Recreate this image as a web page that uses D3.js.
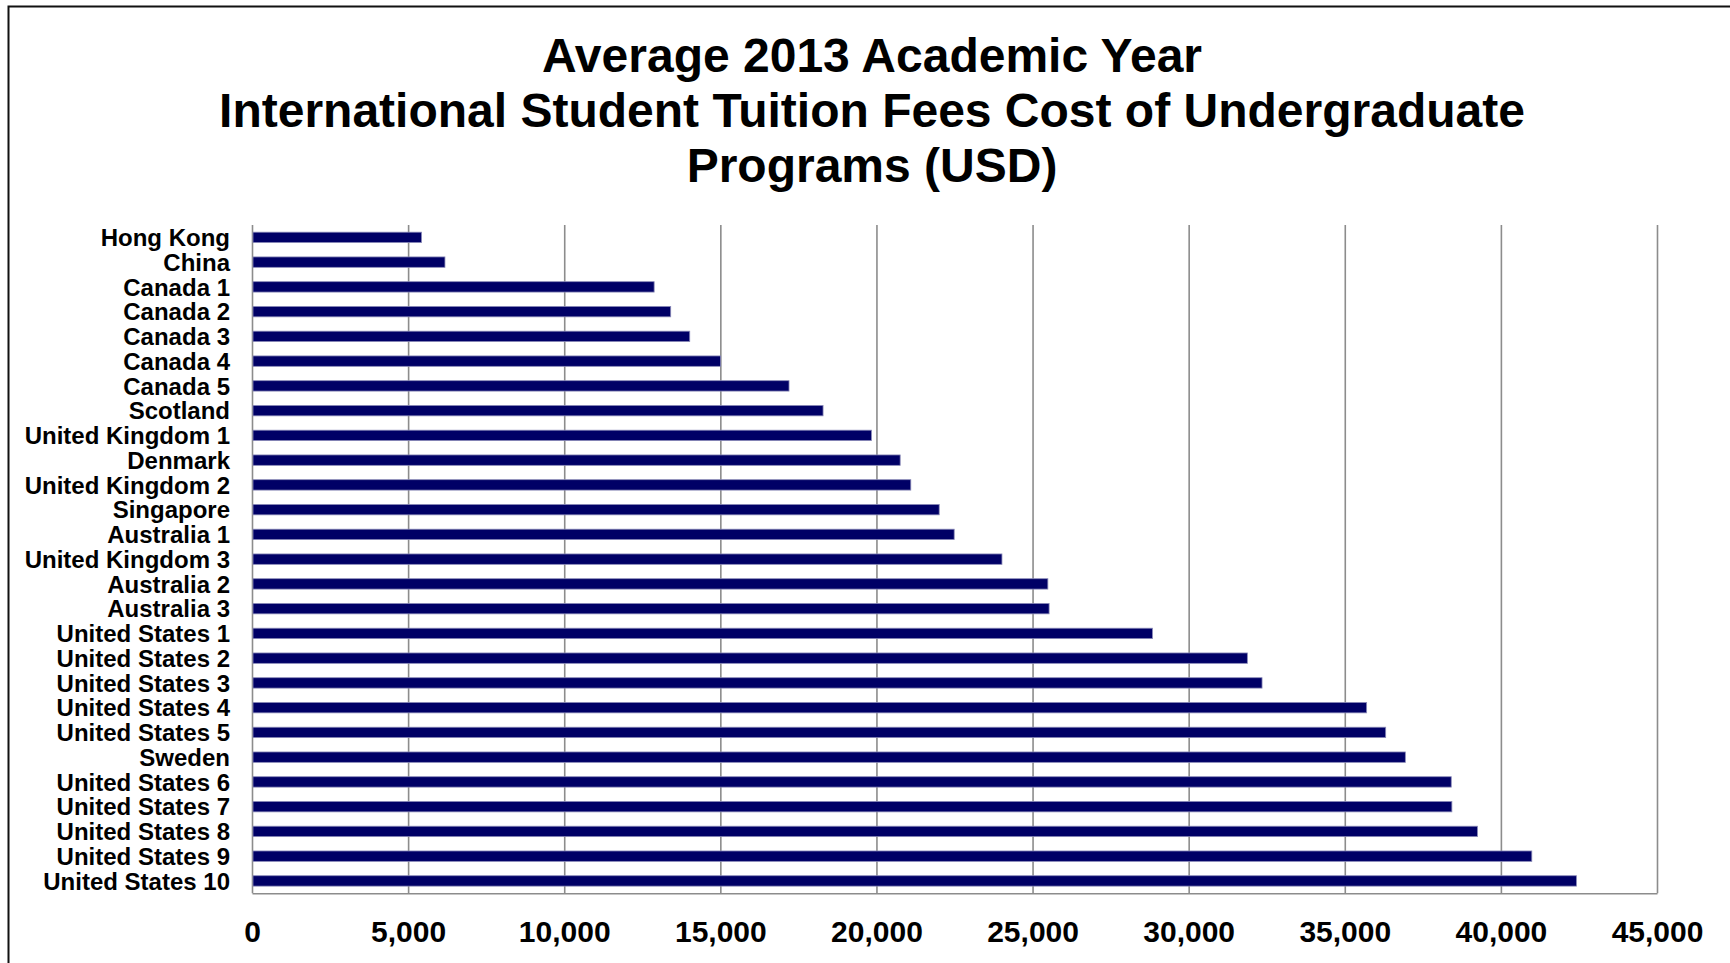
<!DOCTYPE html>
<html>
<head>
<meta charset="utf-8">
<title>International Student Tuition Fees</title>
<script src="https://cdn.jsdelivr.net/npm/d3@7"></script>
<style>
	body { margin: 0; background: #fff; }
	#chart { display: block; font-family: "Liberation Sans", Arial, sans-serif; }
	.xAxis text { font-size: 30px; font-weight: bold; fill: #000; }
	.yAxis text { font-size: 24px; font-weight: bold; fill: #000; }
	.xAxis line, .xAxis path { stroke: #8c8c8c; stroke-width: 1.6px; }
	#title { font-size: 48px; font-weight: bold; fill: #000; }
</style>
</head>
<body>
<svg id="chart" width="1730" height="963"></svg>
<script>

var categories = ["Hong Kong", "China", "Canada 1", "Canada 2", "Canada 3", "Canada 4", "Canada 5",
	"Scotland", "United Kingdom 1", "Denmark", "United Kingdom 2", "Singapore", "Australia 1",
	"United Kingdom 3", "Australia 2", "Australia 3", "United States 1", "United States 2",
	"United States 3", "United States 4", "United States 5", "Sweden", "United States 6",
	"United States 7", "United States 8", "United States 9", "United States 10"];

var fees = [5430, 6180, 12880, 13410, 14020, 15010, 17200, 18290, 19840, 20760, 21100, 22010, 22490,
	24020, 25490, 25530, 28840, 31880, 32350, 35700, 36310, 36940, 38410, 38430, 39250, 40990, 42420];

var xTicks = [0, 5000, 10000, 15000, 20000, 25000, 30000, 35000, 40000, 45000];

var titleLines = ["Average 2013 Academic Year",
	"International Student Tuition Fees Cost of Undergraduate",
	"Programs (USD)"];

var data = categories.map(function(c, i) { return { name: c, val: fees[i] }; });

// plot area edges (window.top is taken, so prefixed names)
var plotLeft = 252, plotRight = 1657,
	plotTop = 225, plotBottom = 893.3;

var xScale = d3.scaleLinear().domain([0, 45000]).range([plotLeft, plotRight]);
var yScale = d3.scaleBand()
	.domain(categories)
	.range([plotTop, plotBottom])
	.paddingInner(0.58)
	.paddingOuter(0.29);

var formatValue = d3.format(",");

var chart = d3.select("#chart");

// outer frame, runs off the right and bottom edges
chart.append("path")
	.attr("d", "M8.5,1000V6.5H1800")
	.attr("fill", "none")
	.attr("stroke", "#111")
	.attr("stroke-width", 2);

var title = chart.append("text")
	.attr("id", "title")
	.attr("text-anchor", "middle");

title.selectAll("tspan")
	.data(titleLines)
	.enter()
	.append("tspan")
	.attr("x", 872)
	.attr("y", function(d, i) { return 72 + i * 55; })
	.text(function(d) { return d; });

// x axis doubles as the grid and the plot frame
var xAxis = d3.axisBottom(xScale)
	.tickValues(xTicks)
	.tickFormat(formatValue)
	.tickSizeInner(-(plotBottom - plotTop))
	.tickSizeOuter(0)
	.tickPadding(27);

chart.append("g")
	.attr("class", "xAxis")
	.attr("transform", "translate(0," + plotBottom + ")")
	.call(xAxis)
	.call(function(g) { g.selectAll("text").attr("font-family", null).attr("font-size", null); });

var yAxis = d3.axisLeft(yScale)
	.tickSize(0)
	.tickPadding(22);

chart.append("g")
	.attr("class", "yAxis")
	.attr("transform", "translate(" + plotLeft + ",1)")
	.call(yAxis)
	.call(function(g) {
		g.select(".domain").remove();
		g.selectAll("text").attr("font-family", null).attr("font-size", null);
	});

chart.append("g")
	.attr("class", "bars")
	.selectAll("rect")
	.data(data)
	.enter()
	.append("rect")
	.attr("x", xScale(0) + 1)
	.attr("y", function(d) { return yScale(d.name); })
	.attr("width", function(d) { return xScale(d.val) - xScale(0) - 1; })
	.attr("height", yScale.bandwidth())
	.attr("fill", "#000066")
	.attr("stroke", "#8a8ab8")
	.attr("stroke-width", 0.8);

</script>
</body>
</html>
